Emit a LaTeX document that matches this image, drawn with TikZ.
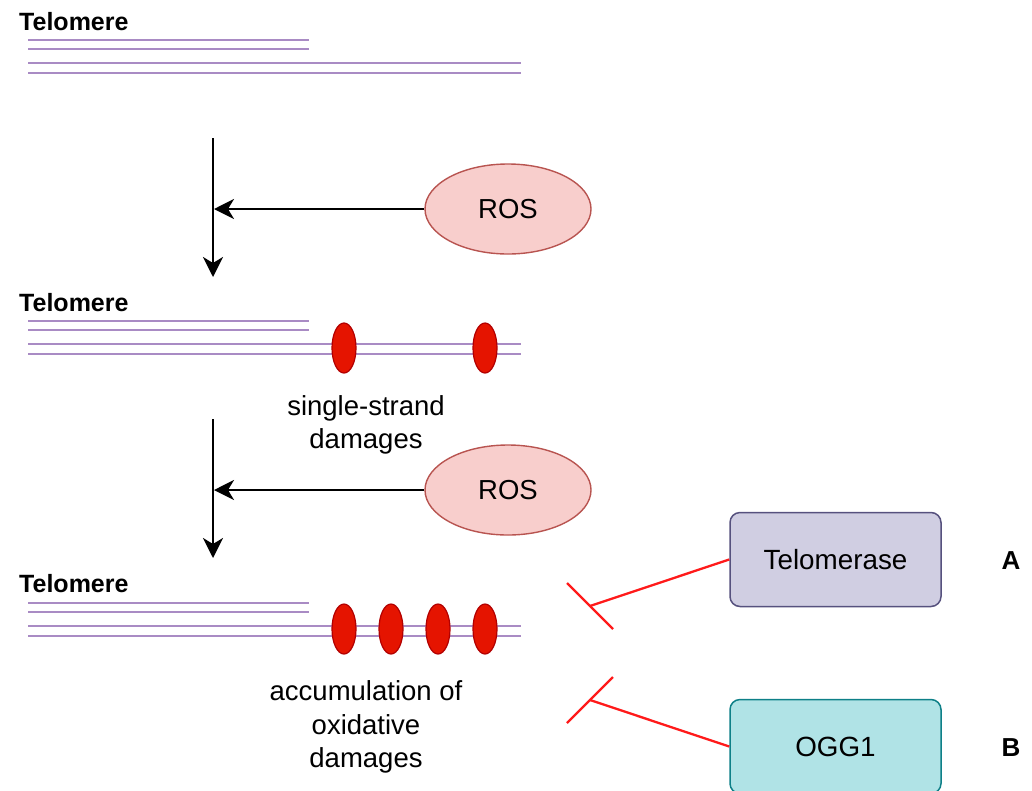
\documentclass[tikz,border=0pt]{standalone}
\usepackage{fontspec}
\setmainfont{Liberation Sans}
\usetikzlibrary{arrows.meta,shapes.geometric}
\definecolor{strand}{HTML}{A98BC4}
\definecolor{rosfill}{HTML}{F8CECC}
\definecolor{rosline}{HTML}{B85450}
\definecolor{dmgfill}{HTML}{E51400}
\definecolor{dmgline}{HTML}{B20000}
\definecolor{telfill}{HTML}{D0CEE2}
\definecolor{telline}{HTML}{56517E}
\definecolor{oggfill}{HTML}{B0E3E6}
\definecolor{oggline}{HTML}{0E8088}
\definecolor{inhred}{HTML}{FF1A1A}
\tikzset{
  strandline/.style={draw=strand, line width=2.6pt},
  telolabel/.style={font=\fontsize{25}{29}\selectfont\bfseries, anchor=base west, inner sep=0pt},
  ros/.style={ellipse, draw=rosline, fill=rosfill, line width=1.4pt, minimum width=166pt, minimum height=90pt, inner sep=0pt, font=\fontsize{27.5}{32}\selectfont},
  dmg/.style={ellipse, draw=dmgline, fill=dmgfill, line width=1.2pt, minimum width=24pt, minimum height=50pt, inner sep=0pt},
  caption/.style={align=center, font=\fontsize{27.5}{33.5}\selectfont, inner sep=0pt},
  arr/.style={draw=black, line width=2.4pt, -{Stealth[length=20pt,width=20pt,inset=6pt]}},
  inh/.style={draw=inhred, line width=2.3pt},
  telbox/.style={draw=telline, fill=telfill, line width=1.5pt, rounded corners=10pt, minimum width=211pt, minimum height=94pt, font=\fontsize{27.8}{32}\selectfont},
  oggbox/.style={draw=oggline, fill=oggfill, line width=1.5pt, rounded corners=10pt, minimum width=211pt, minimum height=94pt, font=\fontsize{27.8}{32}\selectfont},
  letter/.style={font=\fontsize{26}{30}\selectfont\bfseries, inner sep=0pt}
}
\begin{document}
\begin{tikzpicture}[x=1pt,y=-1pt]
\useasboundingbox (0,0) rectangle (1032,790);

% ---- strand group 1
\node[telolabel] (t1) at (19,30) {Telomere};
\draw[strandline] (28,40) -- (309,40);
\draw[strandline] (28,49) -- (309,49);
\draw[strandline] (28,63) -- (521,63);
\draw[strandline] (28,73) -- (521,73);

% ---- strand group 2
\node[telolabel] (t2) at (19,311) {Telomere};
\draw[strandline] (28,321) -- (309,321);
\draw[strandline] (28,330) -- (309,330);
\draw[strandline] (28,344) -- (521,344);
\draw[strandline] (28,354) -- (521,354);
\node[dmg] (d21) at (344,348) {};
\node[dmg] (d22) at (485,348) {};
\node[caption] (c2) at (366,425) {single-strand\\damages};

% ---- strand group 3
\node[telolabel] (t3) at (19,592) {Telomere};
\draw[strandline] (28,603) -- (309,603);
\draw[strandline] (28,612) -- (309,612);
\draw[strandline] (28,626) -- (521,626);
\draw[strandline] (28,636) -- (521,636);
\node[dmg] (d31) at (344,629) {};
\node[dmg] (d32) at (391,629) {};
\node[dmg] (d33) at (438,629) {};
\node[dmg] (d34) at (485,629) {};
\node[caption] (c3) at (366,727) {accumulation of\\oxidative\\damages};

% ---- ROS and arrows, step 1
\node[ros] (ros1) at (508,209) {ROS};
\coordinate (v1s) at (213,138);
\coordinate (v1e) at (213,277);
\coordinate (j1) at (214,209);
\draw[arr] (v1s) -- (v1e);
\draw[arr] (ros1.west) -- (j1);

% ---- ROS and arrows, step 2
\node[ros] (ros2) at (508,490) {ROS};
\coordinate (v2s) at (213,419);
\coordinate (v2e) at (213,558);
\coordinate (j2) at (214,490);
\draw[arr] (v2s) -- (v2e);
\draw[arr] (ros2.west) -- (j2);

% ---- inhibitors
\node[telbox] (tel) at (835.5,559.5) {Telomerase};
\node[oggbox] (ogg) at (835.5,746.5) {OGG1};
\node[letter] (la) at (1011,561) {A};
\node[letter] (lb) at (1011,748) {B};

\coordinate (ta) at (590,606);
\coordinate (ta1) at (567,583);
\coordinate (ta2) at (613,629);
\draw[inh] (tel.west) -- (ta);
\draw[inh] (ta1) -- (ta2);

\coordinate (tb) at (590,700);
\coordinate (tb1) at (567,723);
\coordinate (tb2) at (613,677);
\draw[inh] (ogg.west) -- (tb);
\draw[inh] (tb1) -- (tb2);
\end{tikzpicture}
\end{document}
